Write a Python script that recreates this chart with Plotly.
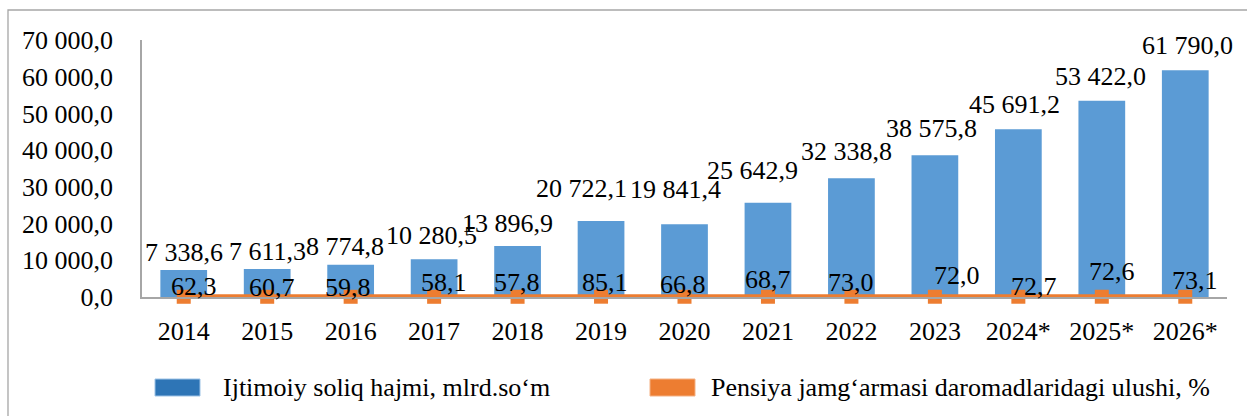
import plotly.graph_objects as go

years = ["2014", "2015", "2016", "2017", "2018", "2019", "2020", "2021", "2022", "2023", "2024*", "2025*", "2026*"]
social_tax = [7338.6, 7611.3, 8774.8, 10280.5, 13896.9, 20722.1, 19841.4, 25642.9, 32338.8, 38575.8, 45691.2, 53422.0, 61790.0]
pension_share = [62.3, 60.7, 59.8, 58.1, 57.8, 85.1, 66.8, 68.7, 73.0, 72.0, 72.7, 72.6, 73.1]
y_ticks = [0, 10000, 20000, 30000, 40000, 50000, 60000, 70000]
series_names = ["Ijtimoiy soliq hajmi, mlrd.so‘m", "Pensiya jamg‘armasi daromadlaridagi ulushi, %"]
top_text = "Soliqlarning YaIMga nisbatini ahamiyatiga o‘zgarishini nazar ko‘ramiz (3-rasm)."

# small manual nudges (pixels) of the data labels, as in the source chart
bar_label_dx = [0, 0, -6, -3, -10, -20, -9, -15, -5, -3, -4, -1, 2]
bar_label_dy = [1, 1, 2, 7, 6, 16, 18, 16, 10, 10, 8, 8, 8]
line_label_dx = [10, 5, -3, 10, -1, 4, -2, 0, 0, 22, 16, 10, 10]
line_label_dy = [-6, -7, -7, -2, -2, -2, -4, 1, -2, 5, -6, 9, 0]

FONT = "Liberation Serif"
BLUE = "#5B9BD5"
BLUE_LEG = "#2E75B6"
ORANGE = "#ED7D31"


def fmt(v):
    s = f"{v:,.1f}"
    return s.replace(",", " ").replace(".", ",")


fig = go.Figure()
fig.add_trace(go.Bar(x=years, y=social_tax, marker=dict(color=BLUE, line=dict(width=0)),
                     name=series_names[0], showlegend=False))
fig.add_trace(go.Scatter(x=years, y=pension_share, mode="lines+markers",
                         line=dict(color=ORANGE, width=5),
                         marker=dict(symbol="square", size=14, color=ORANGE),
                         cliponaxis=False,
                         name=series_names[1], showlegend=False))

annotations = []
# category positions are addressed by index on a category axis
for i, v in enumerate(social_tax):
    annotations.append(dict(x=i, y=v, xref="x", yref="y", text=fmt(v), showarrow=False,
                            yanchor="bottom", yshift=bar_label_dy[i], xshift=bar_label_dx[i],
                            font=dict(family=FONT, size=26, color="black")))
for i, v in enumerate(pension_share):
    annotations.append(dict(x=i, y=v, xref="x", yref="y", text=fmt(v), showarrow=False,
                            yanchor="bottom", yshift=line_label_dy[i], xshift=line_label_dx[i],
                            font=dict(family=FONT, size=26, color="black")))

W, H = 1247, 416
L, R, T, B = 142, 20, 40, 119


def px(xp):
    return (xp - L) / (W - L - R)


def py(yp):
    return (H - B - yp) / (H - T - B)


annotations.append(dict(x=px(10), y=py(2), xref="paper", yref="paper", text=top_text, showarrow=False,
                        xanchor="left", yanchor="bottom", font=dict(family=FONT, size=28, color="black")))
annotations.append(dict(x=px(221), y=py(387), xref="paper", yref="paper", text=series_names[0], showarrow=False,
                        xanchor="left", yanchor="middle", font=dict(family=FONT, size=26, color="black")))
annotations.append(dict(x=px(709), y=py(387), xref="paper", yref="paper", text=series_names[1], showarrow=False,
                        xanchor="left", yanchor="middle", font=dict(family=FONT, size=26, color="black")))

shapes = [
    dict(type="rect", xref="paper", yref="paper", x0=px(8), x1=px(1260), y0=py(430), y1=py(10),
         line=dict(color="#A6A6A6", width=1.3), fillcolor="rgba(0,0,0,0)", layer="below"),
    dict(type="rect", xref="paper", yref="paper", x0=px(155), x1=px(200), y0=py(396), y1=py(379),
         line=dict(color="#9DC3E6", width=1), fillcolor=BLUE_LEG),
    dict(type="rect", xref="paper", yref="paper", x0=px(650), x1=px(695), y0=py(396), y1=py(379),
         line=dict(color="#F4B183", width=1), fillcolor=ORANGE),
]

fig.update_layout(
    width=W, height=H,
    margin=dict(l=L, r=R, t=T, b=B, pad=0),
    paper_bgcolor="white", plot_bgcolor="white",
    bargap=0.44,
    separators=", ",
    font=dict(family=FONT, size=26, color="black"),
    annotations=annotations,
    shapes=shapes,
    showlegend=False,
    xaxis=dict(type="category", categoryorder="array", categoryarray=years,
               range=[-0.5, len(years) - 0.5], showgrid=False, showline=True,
               linecolor="#A6A6A6", linewidth=1.5, ticks="", ticklabelstandoff=10,
               tickfont=dict(family=FONT, size=26)),
    yaxis=dict(range=[0, 70000], tickvals=y_ticks, tickformat=",.1f", showgrid=False,
               showline=True, linecolor="#A6A6A6", linewidth=1.5, zeroline=False,
               ticks="", ticklabelstandoff=22, tickfont=dict(family=FONT, size=26)),
)

fig.write_html("out.html")
